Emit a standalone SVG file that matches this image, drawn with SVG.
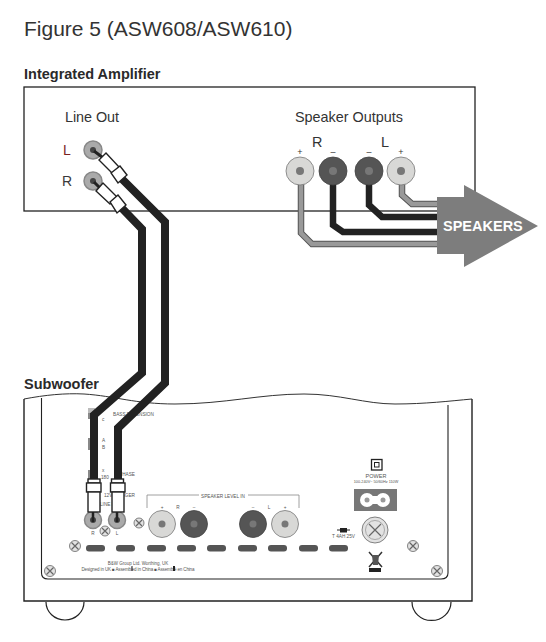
<svg xmlns="http://www.w3.org/2000/svg" width="546" height="642" viewBox="0 0 546 642">
<style>
text{font-family:"Liberation Sans",Arial,sans-serif;fill:#333}
.l{font-size:14.4px}
.h{font-size:14.5px;font-weight:bold;fill:#2a2a2a}
.t{font-size:4.7px;fill:#555}
.s{font-size:9px;text-anchor:middle}
.m{text-anchor:middle}
.box{fill:#fff;stroke:#222;stroke-width:1.3}
.blk{fill:none;stroke:#222;stroke-width:8}
.spk{fill:none;stroke:#222;stroke-width:6.5}
.gry{fill:none;stroke:#555;stroke-width:6.5}
.gry2{fill:none;stroke:#999;stroke-width:4.5}
.lt{fill:#d8d8d6;stroke:#777;stroke-width:.8}
.dk{fill:#555;stroke:#444;stroke-width:.8}
.ctr{fill:#777}
.rca{fill:#aaa;stroke:#888;stroke-width:1.5}
.plug{fill:#fff;stroke:#222;stroke-width:1.4}
.slot{fill:#555}
.screw{fill:#e2e2e2;stroke:#666;stroke-width:.8}
.x{stroke:#666;stroke-width:1.2;fill:none}
</style>
<rect width="546" height="642" fill="#fff"/>
<text x="24" y="36" font-size="21" style="fill:#333">Figure 5 (ASW608/ASW610)</text>

<g id="amp">
<text class="h" x="24" y="79">Integrated Amplifier</text>
<rect class="box" x="24" y="87" width="451" height="124"/>
<text class="l" x="65" y="122" textLength="54">Line Out</text>
<text class="l" x="295" y="122">Speaker Outputs</text>
<text x="63" y="155" font-size="14" style="fill:#7a1f1f">L</text>
<text x="62" y="186" font-size="14" style="fill:#3a3a3a">R</text>
<text class="l" x="312" y="147">R</text>
<text class="l" x="381" y="147">L</text>
<text class="s" x="300" y="155">+</text>
<text class="s" x="333" y="155">–</text>
<text class="s" x="369" y="155">–</text>
<text class="s" x="401" y="155">+</text>
</g>

<g id="subwoofer">
<text class="h" x="24" y="389">Subwoofer</text>
<path d="M24 399C45 395 65 393 84 394C115 396 135 404 175 404C225 404 260 394 304 394C340 394 365 404 395 404C425 404 450 401 472 399" fill="none" stroke="#333" stroke-width="1"/>
<path d="M24 399V601H472V399" fill="none" stroke="#222" stroke-width="1.4"/>
<path d="M41.500 398V573Q41.500 579 48 579H441Q448 579 448 573V405" fill="none" stroke="#222" stroke-width="1.100"/>
<path d="M46 602A19 18 0 0 0 84 602M412 602A19 18 0 0 0 451 602" fill="none" stroke="#222" stroke-width="1.200"/>
</g>

<g id="sub-panel">
<rect x="88" y="408" width="7" height="5" fill="#bbb"/>
<rect x="88" y="413" width="7" height="6" fill="#888"/>
<rect x="88" y="438" width="3" height="12" fill="#888"/>
<rect x="88" y="470" width="3" height="12" fill="#888"/>
<text class="t" x="113" y="416">BASS EXTENSION</text>
<text class="t" x="102" y="421">c</text>
<text class="t" x="102" y="442">A</text>
<text class="t" x="102" y="449">B</text>
<text class="t" x="102" y="472">x</text>
<text class="t" x="101" y="479">180</text>
<text class="t" x="119" y="476">PHASE</text>
<text class="t" x="104" y="497">12V TRIGGER</text>
<text class="t" x="100" y="506">LINE IN</text>
<text class="t m" x="93" y="535">R</text>
<text class="t m" x="117" y="535">L</text>
<path d="M147 508V495H299V508" fill="none" stroke="#888" stroke-width=".8"/>
<rect x="199" y="491" width="49" height="8" fill="#fff"/>
<text class="t m" x="223" y="498">SPEAKER LEVEL IN</text>
<text class="t m" x="162" y="509">+</text>
<text class="t m" x="178" y="509">R</text>
<text class="t m" x="194" y="509">–</text>
<text class="t m" x="253" y="509">–</text>
<text class="t m" x="269" y="509">L</text>
<text class="t m" x="285" y="509">+</text>
<circle class="lt" cx="162" cy="524" r="13.500"/><circle class="ctr" cx="162" cy="524" r="3.500"/>
<circle class="dk" cx="194" cy="524" r="13.500"/><circle class="ctr" cx="194" cy="524" r="3.500"/>
<circle class="dk" cx="253" cy="524" r="13.500"/><circle class="ctr" cx="253" cy="524" r="3.500"/>
<circle class="lt" cx="285" cy="524" r="13.500"/><circle class="ctr" cx="285" cy="524" r="3.500"/>
<g class="slot">
<rect x="86" y="545" width="19" height="6.500" rx="3"/><rect x="116" y="545" width="19" height="6.500" rx="3"/>
<rect x="147" y="545" width="19" height="6.500" rx="3"/><rect x="177" y="545" width="19" height="6.500" rx="3"/>
<rect x="207" y="545" width="19" height="6.500" rx="3"/><rect x="238" y="545" width="19" height="6.500" rx="3"/>
<rect x="268" y="545" width="19" height="6.500" rx="3"/><rect x="299" y="545" width="19" height="6.500" rx="3"/>
<rect x="329" y="545" width="19" height="6.500" rx="3"/>
</g>
<circle class="screw" cx="105" cy="531" r="5"/><path class="x" d="M102 528L108 534M108 528L102 534"/>
<circle class="screw" cx="139" cy="523" r="5"/><path class="x" d="M136 520L142 526M142 520L136 526"/>
<circle class="screw" cx="75" cy="546" r="5.500"/><path class="x" d="M71.500 542.500L78.500 549.500M78.500 542.500L71.500 549.500"/>
<circle class="screw" cx="413" cy="546" r="5.500"/><path class="x" d="M409.500 542.500L416.500 549.500M416.500 542.500L409.500 549.500"/>
<circle class="screw" cx="50" cy="571" r="5.500"/><path class="x" d="M46.500 567.500L53.500 574.500M53.500 567.500L46.500 574.500"/>
<circle class="screw" cx="437" cy="571" r="5.500"/><path class="x" d="M433.500 567.500L440.500 574.500M440.500 567.500L433.500 574.500"/>
<circle class="screw" cx="375" cy="530" r="13"/><circle cx="375" cy="530" r="9.500" fill="none" stroke="#999" stroke-width=".8"/><path class="x" d="M369 524L381 536M381 524L369 536"/>
<rect x="371.500" y="459.500" width="10.500" height="10.500" fill="#fff" stroke="#222" stroke-width="1.300"/><rect x="374.500" y="462.500" width="4.500" height="4.500" fill="none" stroke="#222"/>
<text class="m" x="376" y="478" style="font-size:5.500px;fill:#555">POWER</text>
<text class="m" x="376" y="483" style="font-size:3.800px;fill:#555">100-240V~ 50/60Hz 110W</text>
<rect x="354" y="489" width="43" height="22" fill="#777"/>
<circle cx="367" cy="500" r="7" fill="#fff"/><circle cx="383" cy="500" r="7" fill="#fff"/><rect x="367" y="496" width="16" height="8" fill="#fff"/>
<circle cx="367" cy="500" r="2.500" fill="#999"/><circle cx="383" cy="500" r="2.500" fill="#999"/>
<path d="M337 530H350" stroke="#222" stroke-width="1"/><rect x="340" y="528" width="7" height="4.500" fill="#222"/>
<text class="t m" x="343.500" y="538">T 4AH 25V</text>
<path d="M369 552L382 567M382 552L369 567" stroke="#333" stroke-width="1.500" fill="none"/><path d="M372 555H379L378 565H373Z" fill="#555"/><rect x="369" y="568" width="12" height="4" fill="#222"/>
<text class="m" x="138" y="565" style="font-size:4.500px;fill:#555">B&amp;W Group Ltd. Worthing, UK</text>
<text class="m" x="138" y="570.500" style="font-size:4.500px;fill:#555" textLength="113">Designed in UK ■ Assembled in China ■ Assemblé en China</text>
<rect x="131.500" y="566" width="1" height="5" fill="#222"/>
<rect x="173" y="566" width="2" height="5" fill="#222"/>
</g>

<g id="connectors">
<path class="blk" d="M114 200L142 229V373L94 415V482"/>
<path class="blk" d="M120 177L165 222V383L118 428V482"/>
<path class="gry" d="M301 183V233L312 244H438"/><path class="gry2" d="M301 183V233L312 244H438"/>
<path class="spk" d="M333 183V225L343 232H438"/>
<path class="spk" d="M369 183V205L382 217H438"/>
<path class="gry" d="M402 183V195L412 204H438"/><path class="gry2" d="M402 183V195L412 204H438"/>
</g>

<g id="arrow">
<path d="M437 197H464V185L538 226L464 267V254H437Z" fill="#7d7d7d"/>
<text x="443" y="231" font-size="14.500" font-weight="bold" style="fill:#fff">SPEAKERS</text>
</g>

<g id="jacks">
<circle class="rca" cx="93" cy="150" r="9"/><circle cx="93" cy="150" r="3" fill="#444"/>
<circle class="rca" cx="93" cy="181" r="9"/><circle cx="93" cy="181" r="3" fill="#444"/>
<path d="M94 151L102 157M94 182L100 188" stroke="#222" stroke-width="3" fill="none"/>
<g class="plug">
<path d="M99 160L106 153L119 167L113 174Z"/><path d="M111 173L120 166L127 175L118 183Z"/>
<path d="M96 191L103 183L117 197L110 204Z"/><path d="M110 202L118 195L126 205L117 213Z"/>
</g>
<circle class="lt" cx="300" cy="171" r="14"/><circle class="ctr" cx="300" cy="171" r="4"/>
<circle class="dk" cx="333" cy="171" r="14"/><circle class="ctr" cx="333" cy="171" r="4"/>
<circle class="dk" cx="369" cy="171" r="14"/><circle class="ctr" cx="369" cy="171" r="4"/>
<circle class="lt" cx="401" cy="171" r="14"/><circle class="ctr" cx="401" cy="171" r="4"/>
<circle class="rca" cx="93" cy="520" r="8.500"/><circle cx="93" cy="520" r="3" fill="#444"/>
<circle class="rca" cx="117" cy="520" r="8.500"/><circle cx="117" cy="520" r="3" fill="#444"/>
<g class="plug">
<rect x="88" y="479" width="12" height="4"/><rect x="86.500" y="483" width="14.500" height="9"/><rect x="88" y="492" width="12" height="20"/>
<rect x="111.500" y="479" width="12" height="4"/><rect x="110.500" y="483" width="14.500" height="9"/><rect x="112" y="492" width="12" height="20"/>
</g>
<path d="M93 512V522M117 512V522" stroke="#222" stroke-width="2.500"/>
</g>
</svg>
